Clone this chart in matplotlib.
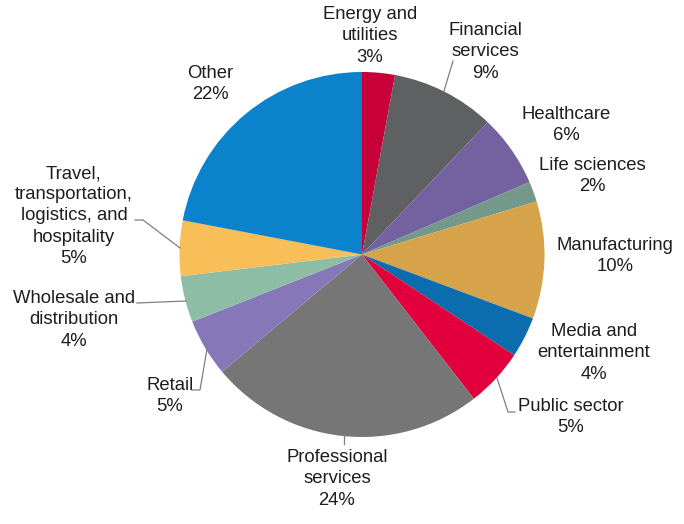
import matplotlib
matplotlib.use("Agg")
import matplotlib.pyplot as plt

# data: share of respondents by industry (clockwise from top)
industries = ["Energy and\nutilities", "Financial\nservices", "Healthcare", "Life sciences",
              "Manufacturing", "Media and\nentertainment", "Public sector", "Professional\nservices",
              "Retail", "Wholesale and\ndistribution",
              "Travel,\ntransportation,\nlogistics, and\nhospitality", "Other"]
shares = [2.9, 9.2, 6.4, 1.8, 10.4, 3.6, 5.2, 24.4, 5.1, 4.1, 4.9, 22.0]
colors = ["#C8003A", "#5F6062", "#7462A0", "#74998A", "#D6A24A", "#0B6CAE",
          "#E2003C", "#767676", "#8677B8", "#8DBDA5", "#F8BE58", "#0A83CC"]

# layout in pixels of the 684x524 image
W, H = 684, 524
CX, CY, R = 362, 254.5, 182.5

def px(x, y):
    return ((x - CX) / R, (CY - y) / R)

label_pos = [(370, 36), (485, 52), (566, 125), (592, 176), (615, 256), (594, 353),
             (571, 417), (337, 479), (170, 396), (74, 320), (74, 216), (210, 84)]
leaders = {
    1: [(444, 91), (453, 61)],
    6: [(497, 378), (508, 412), (515, 412)],
    7: [(344, 434), (344, 444)],
    8: [(207, 349), (200, 390), (192, 390)],
    9: [(186, 301), (137, 303)],
    10: [(180, 248), (143, 220), (135, 220)],
}

fig = plt.figure(figsize=(W / 100, H / 100), dpi=100)
ax = fig.add_axes([0, 0, 1, 1])
ax.pie(shares, colors=colors, startangle=90, counterclock=False, radius=1,
       wedgeprops=dict(linewidth=0))
ax.set_xlim(-CX / R, (W - CX) / R)
ax.set_ylim((CY - H) / R, CY / R)
ax.set_aspect("equal")
ax.axis("off")

for i, name in enumerate(industries):
    x, y = px(*label_pos[i])
    ax.text(x, y, "%s\n%d%%" % (name, round(shares[i])), ha="center", va="center",
            fontsize=13.3, color="#1E1E1E", family=["Liberation Sans", "DejaVu Sans"],
            linespacing=1.32)

for i, pts in leaders.items():
    xs = [px(*p)[0] for p in pts]
    ys = [px(*p)[1] for p in pts]
    ax.plot(xs, ys, color="#7F7F7F", linewidth=0.9)

fig.savefig("out.png", dpi=100)
